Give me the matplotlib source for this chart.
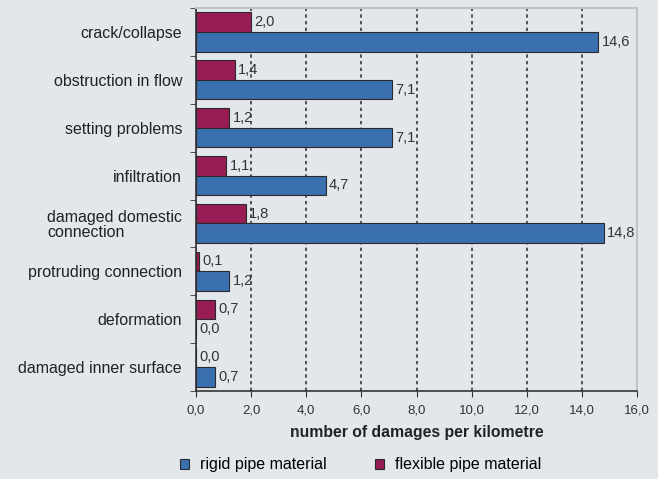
import numpy as np
import matplotlib.pyplot as plt

plt.rcParams['font.family'] = ['Liberation Sans', 'DejaVu Sans']

categories = ["crack/collapse", "obstruction in flow", "setting problems", "infiltration",
              "damaged domestic\nconnection", "protruding connection", "deformation",
              "damaged inner surface"]
rigid = [14.6, 7.1, 7.1, 4.7, 14.8, 1.2, 0.0, 0.7]
flexible = [2.0, 1.4, 1.2, 1.1, 1.8, 0.1, 0.7, 0.0]
xticks = [0, 2, 4, 6, 8, 10, 12, 14, 16]

BG = "#e3e7eb"
BLUE = "#3a6fb0"
CRIMSON = "#981d55"


def fmt(v):
    return f"{v:.1f}".replace(".", ",")


fig = plt.figure(figsize=(6.58, 4.79), dpi=100, facecolor=BG)
ax = fig.add_axes([196 / 658, 1 - 391 / 479, 441 / 658, 383 / 479], facecolor=BG)

n = len(categories)
y = np.arange(n)
h = 0.41
ax.barh(y - h / 2, flexible, height=h, color=CRIMSON, edgecolor="#2a2a2a", linewidth=0.8,
        label="flexible pipe material", zorder=3)
ax.barh(y + h / 2, rigid, height=h, color=BLUE, edgecolor="#2a2a2a", linewidth=0.8,
        label="rigid pipe material", zorder=3)

for yi, v in zip(y, flexible):
    ax.text(v + 0.12, yi - h / 2, fmt(v), va="center", ha="left", fontsize=10.5, color="#333333", zorder=4)
for yi, v in zip(y, rigid):
    ax.text(v + 0.12, yi + h / 2, fmt(v), va="center", ha="left", fontsize=10.5, color="#333333", zorder=4)

ax.set_xlim(0, 16)
ax.set_ylim(n - 0.5, -0.5)
ax.set_xticks(xticks)
ax.set_xticklabels([fmt(t) for t in xticks], fontsize=9.5, color="#333333")
ax.set_yticks(y)
ax.set_yticklabels(categories, fontsize=11.5, color="#222222", linespacing=1.0)
for lbl in ax.get_yticklabels():
    lbl.set_multialignment("left")
ax.set_yticks(np.arange(n + 1) - 0.5, minor=True)
ax.tick_params(axis="y", which="major", length=0, pad=10)
ax.tick_params(axis="y", which="minor", length=4, color="#333333")
ax.tick_params(axis="x", length=4, color="#333333", pad=6)
ax.xaxis.grid(True, linestyle=(0, (2, 2)), color="#3a3a3a", linewidth=1.2, zorder=0)

for side in ["top", "right"]:
    ax.spines[side].set_color("#c0c4c8")
    ax.spines[side].set_linewidth(1.5)
for side in ["left", "bottom"]:
    ax.spines[side].set_color("#333333")
    ax.spines[side].set_linewidth(1.2)

ax.set_xlabel("number of damages per kilometre", fontsize=11.3, fontweight="bold", color="#222222", labelpad=6)

handles, labels = ax.get_legend_handles_labels()
fig.legend(handles[::-1], labels[::-1], loc="center", bbox_to_anchor=(0.548, 1 - 465 / 479), ncol=2,
           frameon=False, fontsize=11.5, handlelength=0.55, handleheight=0.55, columnspacing=3.0,
           handletextpad=0.7)

fig.savefig("out.png", dpi=100, facecolor=BG)
